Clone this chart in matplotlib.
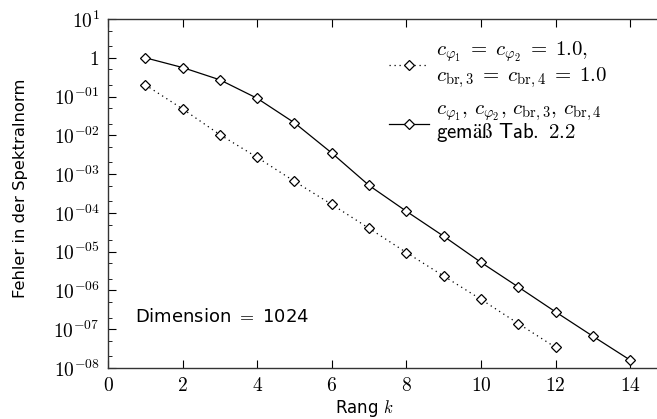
import matplotlib
matplotlib.use("Agg")
import matplotlib.pyplot as plt
from matplotlib.ticker import LogLocator, FixedLocator, NullFormatter

plt.rcParams['mathtext.fontset'] = 'cm'
plt.rcParams['font.family'] = ['DejaVu Sans']

# Rank and spectral-norm errors
rang_a = [1, 2, 3, 4, 5, 6, 7, 8, 9, 10, 11, 12]
fehler_a = [0.2, 0.048, 0.0104, 0.0027, 6.5e-4, 1.65e-4, 4.0e-5, 9.5e-6,
            2.35e-6, 5.9e-7, 1.4e-7, 3.4e-8]
rang_b = [1, 2, 3, 4, 5, 6, 7, 8, 9, 10, 11, 12, 13, 14]
fehler_b = [1.0, 0.56, 0.27, 0.09, 0.021, 0.0035, 5.1e-4, 1.1e-4, 2.5e-5,
            5.3e-6, 1.23e-6, 2.8e-7, 6.6e-8, 1.6e-8]

label_a = ('$c_{\\varphi_1} \\;=\\; c_{\\varphi_2} \\;=\\; 1.0,$\n'
           '$c_{\\mathrm{br},3} \\;=\\; c_{\\mathrm{br},4} \\;=\\; 1.0$')
label_b = ('$c_{\\varphi_1},\\, c_{\\varphi_2},\\, c_{\\mathrm{br},3},\\, c_{\\mathrm{br},4}$\n'
           '$\\mathsf{gemäß\\ Tab.\\ 2.2}$')

x_ticks = [0, 2, 4, 6, 8, 10, 12, 14]
y_exps = [1, 0, -1, -2, -3, -4, -5, -6, -7, -8]


def y_label(e):
    if e == 0:
        return '$1$'
    if e > 0:
        return '$10^{%d}$' % e
    return '$10^{-%02d}$' % (-e)


fig = plt.figure(figsize=(6.57, 4.19), dpi=100)
ax = fig.add_axes([108 / 657, 1 - 368 / 419, 1 - 108 / 657, (368 - 19) / 419])

mk = dict(marker='D', markersize=5.5, markerfacecolor='white',
          markeredgecolor='black', markeredgewidth=0.9, color='black')
ax.plot(rang_a, fehler_a, linestyle=(0, (1, 3)), linewidth=0.9, label=label_a, **mk)
ax.plot(rang_b, fehler_b, linestyle='-', linewidth=0.9, label=label_b, **mk)

ax.set_yscale('log')
ax.set_xlim(0, 14.72)
ax.set_ylim(1e-8, 10)

ax.xaxis.set_major_locator(FixedLocator(x_ticks))
ax.set_xticklabels(['$%d$' % v for v in x_ticks])
ax.yaxis.set_major_locator(FixedLocator([10.0 ** e for e in y_exps]))
ax.set_yticklabels([y_label(e) for e in y_exps])
ax.yaxis.set_minor_locator(LogLocator(base=10, subs=(2.0, 5.0), numticks=20))
ax.yaxis.set_minor_formatter(NullFormatter())

ax.tick_params(axis='both', which='major', direction='in', length=6, width=0.8,
               labelsize=14, top=True, right=False, pad=6)
ax.tick_params(axis='y', which='minor', direction='in', length=3, width=0.6, right=False)
ax.spines['right'].set_visible(False)
for s in ('left', 'bottom', 'top'):
    ax.spines[s].set_linewidth(1.0)
    ax.spines[s].set_color('#333333')

ax.set_xlabel('Rang $k$', fontsize=12)
ax.xaxis.set_label_coords(0.467, -0.085)
ax.set_ylabel('Fehler in der Spektralnorm', fontsize=11.8)
ax.yaxis.set_label_coords(-0.145, 0.516)

ax.text(0.72, 10 ** -6.69, 'Dimension $=$ 1024', fontsize=13, va='center', ha='left')

leg = ax.legend(loc='upper left', bbox_to_anchor=(0.497, 0.965), frameon=False,
                fontsize=15, handlelength=1.9, labelspacing=0.62, handletextpad=0.35,
                borderaxespad=0)
leg_texts = leg.get_texts()
leg_texts[0].set_linespacing(1.05)
leg_texts[1].set_linespacing(0.9)

fig.savefig('out.png', dpi=100)
